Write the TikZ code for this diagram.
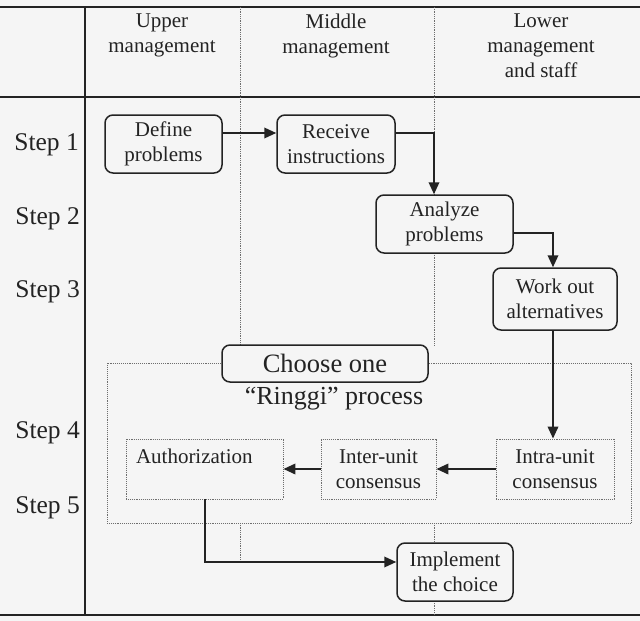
\documentclass[tikz,border=0pt]{standalone}
\usepackage{fontspec}
\setmainfont{Liberation Serif}
\usetikzlibrary{arrows.meta}
\definecolor{bg}{RGB}{245,245,245}
\definecolor{ink}{RGB}{35,35,35}
\definecolor{lane}{RGB}{110,110,110}
\begin{document}
\begin{tikzpicture}[x=1pt,y=-1pt,
  txt/.style={font=\fontsize{21}{25}\selectfont, text=ink, align=center, inner sep=0pt},
  steplbl/.style={font=\fontsize{25.5}{30}\selectfont, text=ink, anchor=base east, inner sep=0pt},
  rbox/.style={txt, draw=ink, line width=1.5pt, rounded corners=8pt, fill=bg},
  dbox/.style={txt, draw=lane, line width=0.9pt, densely dotted, fill=bg},
  arr/.style={draw=ink, line width=2pt, -{Triangle[length=12pt,width=10.5pt]}},
  rule/.style={draw=ink, line width=2.6pt},
  lanel/.style={draw=lane, line width=0.8pt, densely dotted}]
\useasboundingbox[fill=bg] (0,0) rectangle (640,621);
% rules
\draw[rule] (0,7) -- (640,7);
\draw[rule] (0,97) -- (640,97);
\draw[rule] (0,615) -- (640,615);
\draw[draw=ink, line width=1.6pt] (85,7) -- (85,615);
% lanes
\draw[lanel] (240,7) -- (240,345);
\draw[lanel] (240,523) -- (240,562);
\draw[lanel] (434,7) -- (434,195);
\draw[lanel] (434,253) -- (434,345);
\draw[lanel] (434,523) -- (434,543);
\draw[lanel] (434,601) -- (434,615);
% header
\node[txt, anchor=north] (hu) at (162,14) {Upper\\management};
\node[txt, anchor=north] (hm) at (336,14) {Middle\\management};
\node[txt, anchor=north] (hl) at (541,14) {Lower\\management\\and staff};
% steps
\node[steplbl] (s1) at (79,150) {Step 1};
\node[steplbl] (s2) at (80,224) {Step 2};
\node[steplbl] (s3) at (80,297) {Step 3};
\node[steplbl] (s4) at (80,438) {Step 4};
\node[steplbl] (s5) at (80,513) {Step 5};
% ringgi frame
\node[dbox, minimum width=524pt, minimum height=160pt] (frame) at (369,443) {};
% boxes
\node[rbox, minimum width=117pt, minimum height=58pt] (def) at (163.5,144) {Define\\problems};
\node[rbox, minimum width=118pt, minimum height=58pt] (rec) at (336,144) {Receive\\instructions};
\node[rbox, minimum width=137pt, minimum height=58pt] (ana) at (444.5,224) {Analyze\\problems};
\node[rbox, minimum width=124pt, minimum height=62pt] (wor) at (555,299) {Work out\\alternatives};
\node[rbox, font=\fontsize{26.5}{31}\selectfont, minimum width=206pt, minimum height=37pt] (cho) at (325,363.5) {Choose one};
\node[txt, font=\fontsize{26}{31}\selectfont] (rin) at (334,399) {“Ringgi” process};
\node[dbox, minimum height=60pt, text width=137pt, align=left, inner xsep=10pt] (auth) at (204.5,469) {Authorization\\\mbox{}};
\node[dbox, minimum width=115pt, minimum height=60pt] (inter) at (378.5,469) {Inter-unit\\consensus};
\node[dbox, minimum width=118pt, minimum height=60pt] (intra) at (555,469) {Intra-unit\\consensus};
\node[rbox, minimum width=116pt, minimum height=58pt] (imp) at (455,572) {Implement\\the choice};
% arrows
\draw[arr] ([yshift=11pt]def.east) -- ([yshift=11pt]rec.west);
\draw[arr] ([yshift=11pt]rec.east) -| ([xshift=-10.5pt]ana.north);
\draw[arr] ([yshift=-9pt]ana.east) -| ([xshift=-2pt]wor.north);
\draw[arr] ([xshift=-2pt]wor.south) -- ([xshift=-2pt]intra.north);
\draw[arr] (intra.west) -- (inter.east);
\draw[arr] (inter.west) -- (auth.east);
\draw[arr] (auth.south) |- ([yshift=10pt]imp.west);
\end{tikzpicture}
\end{document}
